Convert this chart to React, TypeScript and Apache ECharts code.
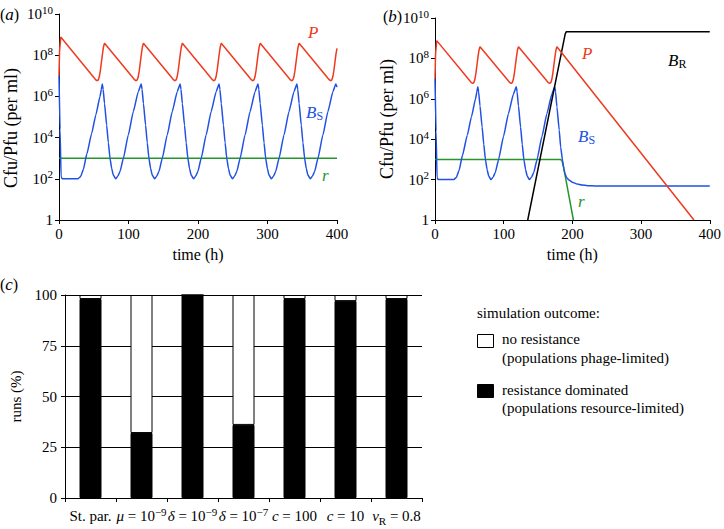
import React, { useEffect, useRef } from 'react';
import * as echarts from 'echarts';

const FONT = 'Liberation Serif';
const RED = '#ee3b20';
const BLUE = '#2150e4';
const GREEN = '#24962c';

// ---------- Panels (a) and (b): log10 of density (Cfu/Pfu per ml) against time (h) ----------
const timeTicks = [0, 100, 200, 300, 400];
const densityExponents = [0, 2, 4, 6, 8, 10];

const aPhage: number[][] = [
  [0, 7.0], [0.8, 8.2], [2.5, 8.88], [51, 6.88], [53, 6.8], [55, 6.76], [56.5, 6.8], [58, 6.95], [59.5, 7.25], [61, 7.65], [62.5, 8.05], [64, 8.4], [65.5, 8.58],
  [107, 6.88], [109, 6.8], [111, 6.76], [112.5, 6.8], [114, 6.95], [115.5, 7.25], [117, 7.65], [118.5, 8.05], [120, 8.4], [121.5, 8.58],
  [163, 6.88], [165, 6.8], [167, 6.76], [168.5, 6.8], [170, 6.95], [171.5, 7.25], [173, 7.65], [174.5, 8.05], [176, 8.4], [177.5, 8.58],
  [219, 6.88], [221, 6.8], [223, 6.76], [224.5, 6.8], [226, 6.95], [227.5, 7.25], [229, 7.65], [230.5, 8.05], [232, 8.4], [233.5, 8.58],
  [275, 6.88], [277, 6.8], [279, 6.76], [280.5, 6.8], [282, 6.95], [283.5, 7.25], [285, 7.65], [286.5, 8.05], [288, 8.4], [289.5, 8.58],
  [331, 6.88], [333, 6.8], [335, 6.76], [336.5, 6.8], [338, 6.95], [339.5, 7.25], [341, 7.65], [342.5, 8.05], [344, 8.4], [345.5, 8.58],
  [387, 6.88], [389, 6.8], [391, 6.76], [392.5, 6.8], [394, 6.95], [395.5, 7.25], [397, 7.65], [398.5, 8.05], [400, 8.33],
];

const aSensitive: number[][] = [
  [0, 7.0], [1.5, 4.4], [3, 2.1], [4.5, 2.0], [27, 2.0], [31, 2.1], [35, 2.45], [40, 3.2], [47, 4.2], [53, 5.1], [59, 6.0], [61, 6.35], [62.3, 6.6],
  [63.5, 6.35], [65.5, 5.65], [68.6, 4.6], [71, 3.75], [73.4, 3.0], [75.8, 2.5], [78.2, 2.18], [81.5, 2.0], [84.5, 2.12], [87.8, 2.35], [92.6, 3.0], [99.7, 4.13], [106.9, 5.26], [114.1, 6.23], [118.3, 6.6],
  [119.5, 6.35], [121.5, 5.65], [124.6, 4.6], [127, 3.75], [129.4, 3.0], [131.8, 2.5], [134.2, 2.18], [137.5, 2.0], [140.5, 2.12], [143.8, 2.35], [148.6, 3.0], [155.7, 4.13], [162.9, 5.26], [170.1, 6.23], [174.3, 6.6],
  [175.5, 6.35], [177.5, 5.65], [180.6, 4.6], [183, 3.75], [185.4, 3.0], [187.8, 2.5], [190.2, 2.18], [193.5, 2.0], [196.5, 2.12], [199.8, 2.35], [204.6, 3.0], [211.7, 4.13], [218.9, 5.26], [226.1, 6.23], [230.3, 6.6],
  [231.5, 6.35], [233.5, 5.65], [236.6, 4.6], [239, 3.75], [241.4, 3.0], [243.8, 2.5], [246.2, 2.18], [249.5, 2.0], [252.5, 2.12], [255.8, 2.35], [260.6, 3.0], [267.7, 4.13], [274.9, 5.26], [282.1, 6.23], [286.3, 6.6],
  [287.5, 6.35], [289.5, 5.65], [292.6, 4.6], [295, 3.75], [297.4, 3.0], [299.8, 2.5], [302.2, 2.18], [305.5, 2.0], [308.5, 2.12], [311.8, 2.35], [316.6, 3.0], [323.7, 4.13], [330.9, 5.26], [338.1, 6.23], [342.3, 6.6],
  [343.5, 6.35], [345.5, 5.65], [348.6, 4.6], [351, 3.75], [353.4, 3.0], [355.8, 2.5], [358.2, 2.18], [361.5, 2.0], [364.5, 2.12], [367.8, 2.35], [372.6, 3.0], [379.7, 4.13], [386.9, 5.26], [394.1, 6.23], [398.3, 6.6], [400, 6.45],
];

const aResource: number[][] = [[0, 3.0], [400, 3.0]];

const bPhage: number[][] = [
  [0, 7.0], [0.8, 8.2], [2.5, 8.88], [51, 6.88], [53, 6.8], [55, 6.76], [56.5, 6.8], [58, 6.95], [59.5, 7.25], [61, 7.65], [62.5, 8.05], [64, 8.4], [65.5, 8.58],
  [107, 6.88], [109, 6.8], [111, 6.76], [112.5, 6.8], [114, 6.95], [115.5, 7.25], [117, 7.65], [118.5, 8.05], [120, 8.4], [121.5, 8.58],
  [163, 6.88], [165, 6.8], [167, 6.76], [168.5, 6.8], [170, 6.95], [171.5, 7.25], [173, 7.65], [174.5, 8.05], [176, 8.4], [177.5, 8.58],
  [377, 0],
];

const bSensitive: number[][] = [
  [0, 7.0], [1.5, 4.4], [3, 2.1], [4.5, 2.0], [27, 2.0], [31, 2.1], [35, 2.45], [40, 3.2], [47, 4.2], [53, 5.1], [59, 6.0], [61, 6.35], [62.3, 6.6],
  [63.5, 6.35], [65.5, 5.65], [68.6, 4.6], [71, 3.75], [73.4, 3.0], [75.8, 2.5], [78.2, 2.18], [81.5, 2.0], [84.5, 2.12], [87.8, 2.35], [92.6, 3.0], [99.7, 4.13], [106.9, 5.26], [114.1, 6.23], [118.3, 6.6],
  [119.5, 6.35], [121.5, 5.65], [124.6, 4.6], [127, 3.75], [129.4, 3.0], [131.8, 2.5], [134.2, 2.18], [137.5, 2.0], [140.5, 2.12], [143.8, 2.35], [148.6, 3.0], [155.7, 4.13], [162.9, 5.26], [170.1, 6.23], [174.3, 6.6],
  [175.5, 6.35], [177.5, 5.6], [180.8, 4.46], [183, 3.6], [185.6, 2.97], [187.5, 2.55], [189, 2.31], [192, 2.08], [195, 1.98], [200, 1.87], [207, 1.78], [214, 1.73], [222, 1.7], [235, 1.68], [400, 1.68],
];

const bResource: number[][] = [[0, 3.0], [183, 3.0], [185, 2.92], [187, 2.65], [201.5, 0]];

const bResistant: number[][] = [[135, 0], [189.5, 9.2], [191, 9.32], [400, 9.32]];

// ---------- Panel (c): share of runs (%) by parameter set ----------
const scenarios = ['St. par.', 'μ = 10⁻⁹', 'δ = 10⁻⁹', 'δ = 10⁻⁷', 'c = 100', 'c = 10', 'vR = 0.8'];
const scenarioLabels = [
  '{b|St. par.}',
  '{i|μ}{b| = 10}{sup|−9}',
  '{i|δ}{b| = 10}{sup|−9}',
  '{i|δ}{b| = 10}{sup|−7}',
  '{i|c}{b| = 100}',
  '{i|c}{b| = 10}',
  '{i|v}{sub|R}{b| = 0.8}',
];
const resistanceDominated = [98, 32, 100, 36, 98, 97, 98];
const noResistance = [2, 68, 0, 64, 2, 3, 2];
const runTicks = [0, 25, 50, 75, 100];

// ---------- option ----------
const black = '#000';

const tickRich = {
  b: { fontFamily: FONT, fontSize: 15, color: black, lineHeight: 20 },
  sup: { fontFamily: FONT, fontSize: 11, color: black, lineHeight: 12, verticalAlign: 'top' },
};

const catRich = {
  b: { fontFamily: FONT, fontSize: 15, color: black, lineHeight: 20 },
  i: { fontFamily: FONT, fontSize: 15, fontStyle: 'italic', color: black, lineHeight: 20 },
  sup: { fontFamily: FONT, fontSize: 11, color: black, lineHeight: 12, verticalAlign: 'top' },
  sub: { fontFamily: FONT, fontSize: 11, color: black, lineHeight: 12, verticalAlign: 'bottom' },
};

const axisLine = { show: true, onZero: false, lineStyle: { color: black, width: 1 } };
const axisTick = { show: true, inside: false, length: 4, lineStyle: { color: black, width: 1 } };

const timeAxis = (gridIndex: number) => ({
  type: 'value',
  gridIndex,
  min: timeTicks[0],
  max: timeTicks[timeTicks.length - 1],
  interval: timeTicks[1] - timeTicks[0],
  name: 'time (h)',
  nameLocation: 'middle',
  nameGap: 26,
  nameTextStyle: { fontFamily: FONT, fontSize: 16, color: black },
  axisLine,
  axisTick,
  axisLabel: { fontFamily: FONT, fontSize: 15, color: black, margin: 6 },
  splitLine: { show: false },
});

const densityAxis = (gridIndex: number, namePadding: number[]) => ({
  type: 'value',
  gridIndex,
  min: densityExponents[0],
  max: densityExponents[densityExponents.length - 1],
  interval: densityExponents[1] - densityExponents[0],
  name: 'Cfu/Pfu (per ml)',
  nameLocation: 'middle',
  nameGap: 39,
  nameTextStyle: { fontFamily: FONT, fontSize: 18, color: black, padding: namePadding },
  axisLine,
  axisTick,
  axisLabel: {
    margin: 6,
    formatter: (v: number) => (v === 0 ? '{b|1}' : `{b|10}{sup|${v}}`),
    rich: tickRich,
  },
  splitLine: { show: false },
});

const lineSeries = (name: string, idx: number, data: number[][], color: string, smooth: number | boolean = false) => ({
  type: 'line',
  name,
  xAxisIndex: idx,
  yAxisIndex: idx,
  data,
  showSymbol: false,
  symbol: 'none',
  smooth,
  smoothMonotone: 'x',
  clip: true,
  lineStyle: { color, width: 1.5 },
  emphasis: { disabled: true },
});

const plotRich = (color: string) => ({
  i: { fontFamily: FONT, fontSize: 17, fontStyle: 'italic', fill: color, lineHeight: 20 },
  n: { fontFamily: FONT, fontSize: 16, fill: color, lineHeight: 20 },
  sub: { fontFamily: FONT, fontSize: 12, fill: color, lineHeight: 12, verticalAlign: 'bottom' },
});

const text = (x: number, y: number, t: string, color = black, rich?: any, size = 15) => ({
  type: 'text',
  x,
  y,
  silent: true,
  style: {
    text: t,
    rich,
    align: 'left',
    verticalAlign: 'middle',
    fontFamily: FONT,
    fontSize: size,
    fill: color,
  },
});

const graphics = [
  text(0, 14, '{n|(}{i|a}{n|)}', black, plotRich(black)),
  text(383, 16, '{n|(}{i|b}{n|)}', black, plotRich(black)),
  text(0, 284, '{n|(}{i|c}{n|)}', black, plotRich(black)),
  // panel (a) curve labels
  text(308, 32, '{i|P}', RED, plotRich(RED)),
  text(306, 112, '{i|B}{sub|S}', BLUE, plotRich(BLUE)),
  text(322, 175, '{i|r}', GREEN, plotRich(GREEN)),
  // panel (b) curve labels
  text(582, 53, '{i|P}', RED, plotRich(RED)),
  text(668, 60, '{i|B}{sub|R}', black, plotRich(black)),
  text(578, 136, '{i|B}{sub|S}', BLUE, plotRich(BLUE)),
  text(578, 201, '{i|r}', GREEN, plotRich(GREEN)),
  // panel (c) legend
  text(477, 313, 'simulation outcome:'),
  { type: 'rect', shape: { x: 477.5, y: 334.5, width: 16, height: 13 }, style: { fill: '#fff', stroke: black, lineWidth: 1 } },
  text(502, 339, 'no resistance'),
  text(502, 358, '(populations phage-limited)'),
  { type: 'rect', shape: { x: 477.5, y: 384.5, width: 16, height: 13 }, style: { fill: black, stroke: black, lineWidth: 1 } },
  text(502, 390, 'resistance dominated'),
  text(502, 408, '(populations resource-limited)'),
];

const option = {
  animation: false,
  backgroundColor: '#fff',
  textStyle: { fontFamily: FONT },
  grid: [
    { left: 59, top: 14, width: 278, height: 206 },
    { left: 435, top: 18, width: 277, height: 202 },
    { left: 59, top: 295, width: 363, height: 203 },
  ],
  xAxis: [
    timeAxis(0),
    timeAxis(1),
    {
      type: 'category',
      gridIndex: 2,
      data: scenarios,
      axisLine,
      axisTick: { ...axisTick, alignWithLabel: false, interval: 0 },
      axisLabel: {
        interval: 0,
        margin: 8,
        formatter: (_v: string, i: number) => scenarioLabels[i],
        rich: catRich,
      },
      splitLine: { show: false },
    },
  ],
  yAxis: [
    densityAxis(0, [0, 22, 0, 0]),
    densityAxis(1, [0, 0, 0, 0]),
    {
      type: 'value',
      gridIndex: 2,
      min: runTicks[0],
      max: runTicks[runTicks.length - 1],
      interval: runTicks[1] - runTicks[0],
      name: 'runs (%)',
      nameLocation: 'middle',
      nameGap: 42,
      nameTextStyle: { fontFamily: FONT, fontSize: 15, color: black },
      axisLine,
      axisTick,
      axisLabel: { fontFamily: FONT, fontSize: 15, color: black, margin: 8 },
      splitLine: { show: true, lineStyle: { color: black, width: 1 } },
    },
  ],
  series: [
    lineSeries('r', 0, aResource, GREEN),
    lineSeries('BS', 0, aSensitive, BLUE, 0.15),
    lineSeries('P', 0, aPhage, RED),
    lineSeries('r', 1, bResource, GREEN),
    lineSeries('BS', 1, bSensitive, BLUE, 0.15),
    lineSeries('BR', 1, bResistant, black),
    lineSeries('P', 1, bPhage, RED),
    {
      type: 'bar',
      name: 'resistance dominated',
      xAxisIndex: 2,
      yAxisIndex: 2,
      stack: 'runs',
      data: resistanceDominated,
      barWidth: 22,
      itemStyle: { color: black, borderColor: black, borderWidth: 1 },
      emphasis: { disabled: true },
    },
    {
      type: 'bar',
      name: 'no resistance',
      xAxisIndex: 2,
      yAxisIndex: 2,
      stack: 'runs',
      data: noResistance,
      barWidth: 22,
      itemStyle: { color: '#fff', borderColor: black, borderWidth: 1 },
      emphasis: { disabled: true },
    },
  ],
  graphic: graphics,
};

export default function App() {
  const ref = useRef<HTMLDivElement>(null);
  useEffect(() => {
    document.body.style.margin = '0';
    const chart = echarts.init(ref.current as HTMLDivElement, null, { renderer: 'svg' });
    chart.setOption(option as any);
    return () => chart.dispose();
  }, []);
  return <div ref={ref} style={{ width: 724, height: 529 }} />;
}
